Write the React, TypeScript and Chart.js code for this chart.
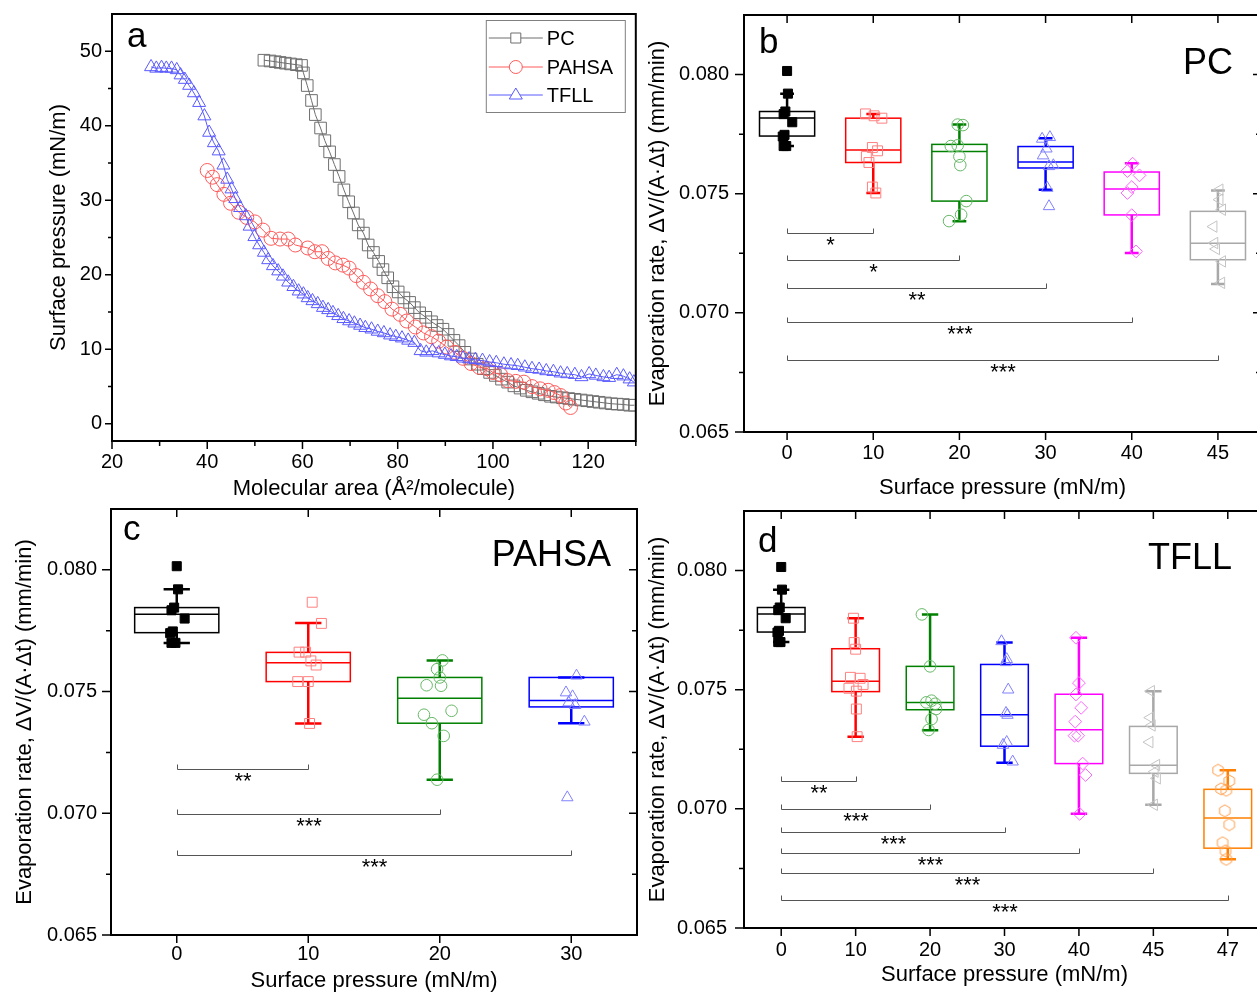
import React, { useEffect, useRef } from 'react';
import { Chart, registerables } from 'chart.js';

Chart.register(...registerables);

const FONT = "'Liberation Sans', Arial, Helvetica, sans-serif";

// ---------------- Panel a: isotherms ----------------
const pcArea = [51.9, 53.2, 54.3, 55.3, 56.4, 57.5, 58.7, 59.8, 60.2, 61.0, 61.9, 62.7, 63.8, 64.7, 65.7, 66.7, 67.7, 68.7, 69.7, 70.7, 71.7, 72.8, 73.8, 74.9, 76.0, 76.9, 77.9, 79.0, 80.1, 81.3, 82.5, 83.5, 84.6, 85.9, 87.1, 88.3, 89.5, 90.6, 91.8, 92.9, 94.1, 95.4, 96.7, 98.0, 99.3, 100.5, 101.8, 103.1, 104.4, 105.7, 107.0, 108.2, 109.5, 110.8, 112.1, 113.3, 114.6, 115.9, 117.2, 118.5, 119.7, 121.0, 122.3, 123.6, 124.9, 126.1, 127.4, 128.7, 129.7];
const pcPressure = [48.8, 48.7, 48.6, 48.5, 48.4, 48.3, 48.2, 48.1, 47.1, 45.4, 43.4, 41.5, 39.7, 38.0, 36.5, 34.8, 33.2, 31.4, 29.8, 28.3, 26.7, 25.6, 24.0, 23.0, 21.8, 20.7, 19.6, 18.4, 17.7, 16.9, 16.3, 15.6, 14.9, 14.3, 13.7, 13.2, 12.7, 12.0, 11.2, 10.5, 9.6, 8.7, 8.0, 7.4, 6.9, 6.5, 6.0, 5.6, 5.1, 4.8, 4.5, 4.3, 4.1, 3.9, 3.7, 3.6, 3.5, 3.4, 3.3, 3.2, 3.1, 3.0, 2.9, 2.8, 2.7, 2.65, 2.6, 2.5, 2.5];

const pahsaArea = [40.0, 41.1, 42.1, 43.5, 44.9, 46.6, 48.3, 50.0, 51.7, 53.4, 55.3, 57.0, 58.5, 61.1, 62.6, 64.1, 65.4, 66.9, 68.5, 69.8, 71.3, 72.8, 74.3, 75.8, 77.3, 78.8, 80.5, 81.9, 83.7, 85.4, 87.1, 88.6, 90.3, 92.0, 93.7, 95.4, 97.1, 98.8, 100.0, 101.6, 103.1, 104.8, 106.5, 108.2, 109.9, 111.6, 112.9, 114.2, 115.3, 116.3];
const pahsaPressure = [34.0, 33.1, 32.1, 30.8, 29.6, 28.4, 27.7, 27.1, 26.0, 24.9, 24.8, 24.8, 24.0, 23.6, 23.1, 23.1, 22.2, 21.6, 21.3, 20.9, 19.9, 19.0, 18.1, 17.2, 16.4, 15.4, 14.7, 13.8, 13.0, 12.2, 11.7, 11.1, 10.3, 9.6, 8.8, 8.1, 7.6, 7.4, 6.9, 6.6, 5.8, 5.7, 5.6, 5.0, 4.7, 4.5, 4.2, 3.8, 2.8, 2.2];

const tfllArea = [28.2, 29.3, 30.4, 31.4, 32.5, 33.6, 34.4, 35.3, 36.2, 37.2, 38.3, 39.4, 40.4, 41.4, 42.4, 43.4, 44.2, 45.1, 45.9, 46.9, 48.1, 48.9, 49.9, 50.9, 51.9, 52.8, 53.8, 54.9, 55.9, 57.0, 58.1, 59.2, 60.2, 61.1, 62.1, 63.2, 64.3, 65.4, 66.4, 67.5, 68.6, 69.8, 70.9, 72.1, 73.2, 74.5, 75.8, 77.1, 78.4, 79.6, 80.9, 82.2, 83.5, 84.8, 86.0, 87.3, 88.6, 89.9, 91.2, 92.4, 93.7, 95.0, 96.3, 97.8, 99.3, 100.7, 102.3, 103.8, 105.2, 106.7, 108.2, 109.7, 111.2, 112.7, 114.2, 115.6, 117.2, 118.6, 120.2, 121.6, 123.2, 124.4, 126.0, 127.4, 128.7, 129.6];
const tfllPressure = [47.9, 47.7, 47.8, 47.7, 47.7, 47.5, 46.8, 46.2, 45.4, 44.4, 43.1, 41.3, 39.1, 37.7, 36.6, 34.7, 32.8, 31.5, 30.2, 29.0, 27.9, 26.5, 25.1, 24.0, 23.0, 22.0, 21.2, 20.5, 19.8, 19.0, 18.4, 17.8, 17.4, 16.9, 16.5, 16.1, 15.6, 15.3, 14.9, 14.5, 14.1, 13.8, 13.5, 13.2, 12.9, 12.7, 12.4, 12.2, 11.9, 11.7, 11.5, 11.2, 10.9, 9.8, 9.6, 9.8, 9.5, 9.3, 9.1, 9.0, 8.8, 8.7, 8.6, 8.5, 8.3, 8.2, 8.0, 7.9, 7.8, 7.6, 7.4, 7.3, 7.1, 7.0, 6.8, 6.7, 6.6, 6.3, 6.7, 6.5, 6.3, 6.2, 6.6, 6.4, 6.0, 5.6];

const isothermLabels = ['PC', 'PAHSA', 'TFLL'];
const areaTicks = [20, 40, 60, 80, 100, 120];
const areaMinorTicks = [30, 50, 70, 90, 110, 130];
const pressureTicks = [0, 10, 20, 30, 40, 50];
const pressureMinorTicks = [5, 15, 25, 35, 45];

// ---------------- Evaporation panels ----------------
const evapTicks = [0.065, 0.07, 0.075, 0.08];
const evapMinorTicks = [0.0675, 0.0725, 0.0775];

const controlValues = [0.08015, 0.0792, 0.07845, 0.07834, 0.078, 0.07747, 0.0774, 0.077, 0.077];
const controlJitter = [0, 0.01, -0.02, -0.04, 0.06, -0.03, -0.05, -0.04, -0.01];

// PC (b)
const pcCats = ['0', '10', '20', '30', '40', '45'];
const pcValues = [
  controlValues,
  [0.07835, 0.07827, 0.07817, 0.07694, 0.0768, 0.07656, 0.07631, 0.07528, 0.07503],
  [0.0779, 0.07788, 0.07703, 0.077, 0.07656, 0.0762, 0.07469, 0.07412, 0.07385],
  [0.07737, 0.0773, 0.07689, 0.0766, 0.07619, 0.07615, 0.07524, 0.07447],
  [0.07626, 0.07595, 0.07577, 0.07528, 0.07503, 0.0741, 0.07258],
  [0.07517, 0.07475, 0.07433, 0.07362, 0.07293, 0.07268, 0.07216, 0.07126],
];
const pcJitter = [
  controlJitter,
  [-0.09, 0.01, 0.1, -0.01, 0.05, -0.08, -0.05, -0.01, 0.03],
  [-0.02, 0.04, -0.02, -0.1, 0, 0.01, 0.08, 0.02, -0.12],
  [0.05, -0.04, 0.01, -0.03, 0.09, 0.04, 0.02, 0.04],
  [0.01, -0.05, 0.09, 0, -0.05, 0, 0.05],
  [0.02, 0.02, 0.05, -0.05, -0.04, -0.02, 0.05, 0.04],
];
const pcQ3 = [0.07845, 0.07817, 0.07707, 0.07698, 0.07591, 0.07426];
const pcMedian = [0.07818, 0.07683, 0.07677, 0.07633, 0.0752, 0.07292];
const pcQ1 = [0.07742, 0.07631, 0.07469, 0.07608, 0.07411, 0.07223];
const pcWhiskHi = [0.0792, 0.07835, 0.0779, 0.07733, 0.07628, 0.07513];
const pcWhiskLo = [0.077, 0.07503, 0.07384, 0.07517, 0.07251, 0.07121];
const pcSigTo = [1, 2, 3, 4, 5];
const pcSigY = [0.07335, 0.0722, 0.07103, 0.0696, 0.06804];
const pcSigLabel = ['*', '*', '**', '***', '***'];

// PAHSA (c)
const pahsaCats = ['0', '10', '20', '30'];
const pahsaValues = [
  controlValues,
  [0.07867, 0.0778, 0.07662, 0.07662, 0.07626, 0.07609, 0.07541, 0.07541, 0.07369],
  [0.07628, 0.07592, 0.07558, 0.07526, 0.07524, 0.07421, 0.07405, 0.0737, 0.07318, 0.07138],
  [0.07565, 0.07496, 0.0748, 0.07455, 0.07444, 0.07376, 0.07065],
];
const pahsaJitter = [
  controlJitter,
  [0.03, 0.1, -0.07, -0.02, 0.02, 0.06, -0.08, 0, 0.01],
  [0.02, -0.02, 0, -0.1, 0.01, 0.09, -0.12, -0.06, 0.03, -0.02],
  [0.04, -0.04, 0.01, -0.02, 0.03, 0.1, -0.03],
];
const pahsaQ3 = [0.07845, 0.07661, 0.07558, 0.07558];
const pahsaMedian = [0.07818, 0.07618, 0.07473, 0.07463];
const pahsaQ1 = [0.07742, 0.07541, 0.0737, 0.07437];
const pahsaWhiskHi = [0.0792, 0.07782, 0.07628, 0.07558];
const pahsaWhiskLo = [0.077, 0.07369, 0.07138, 0.0737];
const pahsaSigTo = [1, 2, 3];
const pahsaSigY = [0.07181, 0.06997, 0.06828];
const pahsaSigLabel = ['**', '***', '***'];

// TFLL (d)
const tfllCats = ['0', '10', '20', '30', '40', '45', '47'];
const tfllValues = [
  controlValues,
  [0.078, 0.07698, 0.0767, 0.07552, 0.07548, 0.07522, 0.07506, 0.07494, 0.07419, 0.07303],
  [0.07816, 0.07598, 0.07454, 0.07447, 0.07441, 0.07419, 0.07377, 0.07331],
  [0.07703, 0.07628, 0.07615, 0.075, 0.07402, 0.07394, 0.0728, 0.07268, 0.07198],
  [0.07718, 0.07528, 0.0748, 0.07424, 0.07366, 0.07307, 0.07307, 0.0719, 0.07142, 0.06979],
  [0.07494, 0.07383, 0.0735, 0.0728, 0.07184, 0.07156, 0.07128, 0.07017],
  [0.07162, 0.07117, 0.07084, 0.07078, 0.06992, 0.06934, 0.06858, 0.06824, 0.06788],
];
const tfllJitter = [
  controlJitter,
  [-0.03, -0.02, 0, -0.07, 0.06, 0.1, -0.09, 0.01, 0.01, 0.02],
  [-0.11, 0, 0.02, -0.05, 0.07, 0.08, 0.02, -0.02],
  [-0.04, 0.03, 0.02, 0.05, 0.02, 0.04, 0.03, -0.02, 0.11],
  [-0.04, 0, -0.04, 0.03, -0.05, -0.06, -0.01, 0.05, 0.09, 0.01],
  [-0.03, -0.04, -0.02, -0.05, 0.04, 0.02, 0.05, 0.01],
  [-0.13, 0.02, -0.09, -0.02, -0.04, 0.02, -0.07, -0.03, -0.02],
];
const tfllQ3 = [0.07845, 0.07672, 0.07598, 0.07606, 0.07481, 0.07346, 0.07082];
const tfllMedian = [0.07818, 0.07535, 0.07446, 0.07395, 0.07332, 0.07183, 0.06962];
const tfllQ1 = [0.07742, 0.07492, 0.07416, 0.07263, 0.0719, 0.07149, 0.06835];
const tfllWhiskHi = [0.0792, 0.078, 0.07816, 0.07698, 0.07718, 0.07494, 0.07162];
const tfllWhiskLo = [0.077, 0.07303, 0.0733, 0.07193, 0.06979, 0.07017, 0.06788];
const tfllSigTo = [1, 2, 3, 4, 5, 6];
const tfllSigY = [0.07115, 0.07, 0.06902, 0.06815, 0.06731, 0.06616];
const tfllSigLabel = ['**', '***', '***', '***', '***', '***'];

// ---------------- styles ----------------
const BOX_COLORS = ['#000000', '#ff0000', '#008000', '#0000ff', '#ff00ff', '#a8a8a8', '#ff8000'];
const PT_COLORS = ['#000000', '#ff8080', '#66b866', '#8080ff', '#ff66ff', '#c4c4c4', '#ffa050'];
const PT_STYLES = ['rect', 'rect', 'circle', 'triangle', 'rectRot', 'triangle', 'hex'];
const PT_RADII = [6.4, 7, 5.8, 6.6, 6.4, 6.6, 6];
const PT_ROT = [0, 0, 0, 0, 0, -90, 0];
const ISO_COLORS = ['#6e6e6e', '#ff5a5a', '#5a5aff'];

function hexagonCanvas(color: string, size: number) {
  const c = document.createElement('canvas');
  c.width = size;
  c.height = size;
  const g = c.getContext('2d')!;
  g.strokeStyle = color;
  g.lineWidth = 1;
  g.beginPath();
  const r = size / 2 - 1;
  for (let k = 0; k < 6; k++) {
    const a = Math.PI / 6 + (k * Math.PI) / 3;
    const px = size / 2 + r * Math.cos(a);
    const py = size / 2 + r * Math.sin(a);
    if (k === 0) g.moveTo(px, py);
    else g.lineTo(px, py);
  }
  g.closePath();
  g.stroke();
  return c;
}

type Layout = {
  left: number; top: number; width: number; height: number;
  padTop: number; padRight: number; yWidth: number; xHeight: number;
  yTitlePad: number; xTitlePad: number; yTickPad: number; xTickPad: number;
  letterDx: number; letterDy: number; nameDx: number; nameDy: number;
};

const LAYOUT_A: Layout = { left: 0, top: 0, width: 645, height: 510, padTop: 14, padRight: 6, yWidth: 112, xHeight: 69, yTitlePad: 46, xTitlePad: 8, yTickPad: 10, xTickPad: 9, letterDx: 15, letterDy: 33, nameDx: 0, nameDy: 0 };
const LAYOUT_B: Layout = { left: 640, top: 0, width: 640, height: 510, padTop: 15, padRight: 19, yWidth: 104, xHeight: 78, yTitlePad: 5, xTitlePad: 9, yTickPad: 15, xTickPad: 9, letterDx: 15, letterDy: 38, nameDx: 28, nameDy: 59 };
const LAYOUT_C: Layout = { left: 0, top: 495, width: 645, height: 505, padTop: 14, padRight: 6, yWidth: 111, xHeight: 65, yTitlePad: 12, xTitlePad: 6, yTickPad: 14, xTickPad: 7, letterDx: 12, letterDy: 31, nameDx: 26, nameDy: 57 };
const LAYOUT_D: Layout = { left: 640, top: 495, width: 640, height: 505, padTop: 16, padRight: 15, yWidth: 104, xHeight: 72, yTitlePad: 5, xTitlePad: 12, yTickPad: 17, xTickPad: 10, letterDx: 14, letterDy: 41, nameDx: 33, nameDy: 58 };

function drawTicks(chart: any, xMajor: number[], xMinor: number[], yMajor: number[], yMinor: number[], inner: boolean, lens: number[]) {
  const { ctx, chartArea, scales } = chart;
  const { left, right, top, bottom } = chartArea;
  const x = scales.x;
  const y = scales.y;
  ctx.save();
  ctx.strokeStyle = '#000';
  ctx.lineWidth = 2;
  ctx.strokeRect(left, top, right - left, bottom - top);
  ctx.lineWidth = 1.5;
  ctx.beginPath();
  const [xMaj, xMin, yMaj, yMin] = lens;
  xMajor.forEach((v) => {
    const p = x.getPixelForValue(v);
    ctx.moveTo(p, bottom); ctx.lineTo(p, bottom + xMaj);
    if (inner) { ctx.moveTo(p, top); ctx.lineTo(p, top + xMaj); }
  });
  xMinor.forEach((v) => {
    const p = x.getPixelForValue(v);
    ctx.moveTo(p, bottom); ctx.lineTo(p, bottom + xMin);
  });
  yMajor.forEach((v) => {
    const p = y.getPixelForValue(v);
    ctx.moveTo(left, p); ctx.lineTo(left - yMaj, p);
    if (inner) { ctx.moveTo(right, p); ctx.lineTo(right - yMaj + 1, p); }
  });
  yMinor.forEach((v) => {
    const p = y.getPixelForValue(v);
    ctx.moveTo(left, p); ctx.lineTo(left - yMin, p);
    if (inner) { ctx.moveTo(right, p); ctx.lineTo(right - yMin, p); }
  });
  ctx.stroke();
  ctx.restore();
}

function drawLetter(chart: any, L: Layout, letter: string, name: string) {
  const { ctx, chartArea } = chart;
  ctx.save();
  ctx.fillStyle = '#000';
  ctx.textBaseline = 'alphabetic';
  ctx.font = `35px ${FONT}`;
  ctx.textAlign = 'left';
  ctx.fillText(letter, chartArea.left + L.letterDx, chartArea.top + L.letterDy);
  if (name) {
    ctx.font = `36px ${FONT}`;
    ctx.textAlign = 'right';
    ctx.fillText(name, chartArea.right - L.nameDx, chartArea.top + L.nameDy);
  }
  ctx.restore();
}

function axisOptions(L: Layout, xOpts: any, yOpts: any) {
  return {
    x: {
      type: 'linear',
      min: xOpts.min,
      max: xOpts.max,
      afterBuildTicks: (s: any) => { s.ticks = xOpts.ticks.map((v: number) => ({ value: v })); },
      afterFit: (s: any) => { s.height = L.xHeight; s.paddingLeft = 0; s.paddingRight = 0; },
      grid: { display: false, drawTicks: false },
      border: { display: false },
      ticks: { font: { family: FONT, size: 20 }, color: '#000', padding: L.xTickPad, autoSkip: false, maxRotation: 0, minRotation: 0, callback: xOpts.callback },
      title: { display: true, text: xOpts.title, color: '#000', font: { family: FONT, size: 22 }, padding: { top: 0, bottom: L.xTitlePad } },
    },
    y: {
      type: 'linear',
      min: yOpts.min,
      max: yOpts.max,
      afterBuildTicks: (s: any) => { s.ticks = yOpts.ticks.map((v: number) => ({ value: v })); },
      afterFit: (s: any) => { s.width = L.yWidth; s.paddingTop = 0; s.paddingBottom = 0; },
      grid: { display: false, drawTicks: false },
      border: { display: false },
      ticks: { font: { family: FONT, size: 20 }, color: '#000', padding: L.yTickPad, autoSkip: false, callback: yOpts.callback },
      title: { display: true, text: yOpts.title, color: '#000', font: { family: FONT, size: 22 }, padding: { top: L.yTitlePad, bottom: 0 } },
    },
  };
}

function baseOptions(L: Layout, scales: any) {
  return {
    responsive: false,
    animation: false,
    devicePixelRatio: 1,
    events: [],
    layout: { padding: { left: 0, top: L.padTop, right: L.padRight, bottom: 0 } },
    plugins: { legend: { display: false }, tooltip: { enabled: false } },
    scales,
  };
}

function makeIsothermChart(canvas: HTMLCanvasElement) {
  const L = LAYOUT_A;
  const series = [
    { x: pcArea, y: pcPressure, style: 'rect', r: 8.2 },
    { x: pahsaArea, y: pahsaPressure, style: 'circle', r: 7 },
    { x: tfllArea, y: tfllPressure, style: 'triangle', r: 7.5 },
  ];
  const datasets = series.map((s, i) => ({
    label: isothermLabels[i],
    data: s.x.map((v, j) => ({ x: v, y: s.y[j] })),
    showLine: true,
    borderColor: ISO_COLORS[i],
    borderWidth: 1,
    tension: 0,
    pointStyle: s.style,
    pointRadius: s.r,
    pointBorderColor: ISO_COLORS[i],
    pointBackgroundColor: 'rgba(0,0,0,0)',
    pointBorderWidth: 1,
    order: 2 - i,
  }));
  const legendPlugin = {
    id: 'isoDecor',
    afterDraw(chart: any) {
      drawTicks(chart, areaTicks, areaMinorTicks, pressureTicks, pressureMinorTicks, false, [8, 5, 7, 4]);
      drawLetter(chart, L, 'a', '');
      const { ctx, chartArea } = chart;
      const bx = chartArea.right - 150;
      const by = chartArea.top + 6;
      ctx.save();
      ctx.fillStyle = '#fff';
      ctx.fillRect(bx, by, 139, 92);
      ctx.strokeStyle = '#808080';
      ctx.lineWidth = 1;
      ctx.strokeRect(bx + 0.5, by + 0.5, 139, 92);
      const rows = [24, 53, 81];
      isothermLabels.forEach((lab, i) => {
        const ry = by + rows[i] - 6;
        const c = ISO_COLORS[i];
        ctx.strokeStyle = c;
        ctx.lineWidth = 1;
        ctx.beginPath();
        ctx.moveTo(bx + 3, ry); ctx.lineTo(bx + 57, ry);
        ctx.stroke();
        const mx = bx + 30;
        ctx.fillStyle = '#fff';
        ctx.beginPath();
        if (i === 0) { ctx.rect(mx - 5, ry - 5, 10, 10); }
        else if (i === 1) { ctx.arc(mx, ry, 6.5, 0, Math.PI * 2); }
        else { ctx.moveTo(mx, ry - 7); ctx.lineTo(mx + 6.5, ry + 4); ctx.lineTo(mx - 6.5, ry + 4); ctx.closePath(); }
        ctx.fill();
        ctx.stroke();
        ctx.fillStyle = '#000';
        ctx.font = `20px ${FONT}`;
        ctx.textAlign = 'left';
        ctx.textBaseline = 'middle';
        ctx.fillText(lab, bx + 61, ry + 1);
      });
      ctx.restore();
    },
  };
  const scales = axisOptions(
    L,
    { min: 20, max: 130, ticks: areaTicks, title: 'Molecular area (Å²/molecule)', callback: (v: number) => String(v) },
    { min: -2.3, max: 55, ticks: pressureTicks, title: 'Surface pressure (mN/m)', callback: (v: number) => String(v) },
  );
  return new Chart(canvas, {
    type: 'scatter',
    data: { datasets },
    options: baseOptions(L, scales) as any,
    plugins: [legendPlugin],
  } as any);
}

type BoxPanel = {
  cats: string[]; values: number[][]; jitter: number[][];
  q1: number[]; med: number[]; q3: number[]; lo: number[]; hi: number[];
  sigTo: number[]; sigY: number[]; sigLabel: string[];
  letter: string; name: string; capFrac: number; layout: Layout;
};

function makeBoxChart(canvas: HTMLCanvasElement, P: BoxPanel) {
  const L = P.layout;
  const hex = hexagonCanvas(PT_COLORS[6], 14);
  const datasets = P.values.map((vals, i) => ({
    data: vals.map((v, j) => ({ x: i + P.jitter[i][j], y: v })),
    showLine: false,
    pointStyle: PT_STYLES[i] === 'hex' ? hex : PT_STYLES[i],
    pointRadius: PT_RADII[i],
    pointRotation: PT_ROT[i],
    pointBorderColor: PT_COLORS[i],
    pointBackgroundColor: i === 0 ? '#000' : 'rgba(0,0,0,0)',
    pointBorderWidth: 1,
  }));
  const boxPlugin = {
    id: 'boxes' + P.letter,
    beforeDatasetsDraw(chart: any) {
      const { ctx, scales } = chart;
      const x = scales.x;
      const y = scales.y;
      const spacing = x.getPixelForValue(1) - x.getPixelForValue(0);
      const hw = (spacing * 0.64) / 2;
      const cw = (spacing * P.capFrac) / 2;
      ctx.save();
      P.q1.forEach((_, i) => {
        const cx = x.getPixelForValue(i);
        const y1 = y.getPixelForValue(P.q1[i]);
        const y3 = y.getPixelForValue(P.q3[i]);
        const ym = y.getPixelForValue(P.med[i]);
        const yl = y.getPixelForValue(P.lo[i]);
        const yh = y.getPixelForValue(P.hi[i]);
        ctx.strokeStyle = BOX_COLORS[i];
        ctx.lineWidth = 2.5;
        ctx.beginPath();
        ctx.moveTo(cx, y3); ctx.lineTo(cx, yh);
        ctx.moveTo(cx - cw, yh); ctx.lineTo(cx + cw, yh);
        ctx.moveTo(cx, y1); ctx.lineTo(cx, yl);
        ctx.moveTo(cx - cw, yl); ctx.lineTo(cx + cw, yl);
        ctx.stroke();
        ctx.lineWidth = 1.5;
        ctx.strokeRect(cx - hw, y3, 2 * hw, y1 - y3);
        ctx.beginPath();
        ctx.moveTo(cx - hw, ym); ctx.lineTo(cx + hw, ym);
        ctx.stroke();
      });
      // significance brackets
      ctx.strokeStyle = '#555';
      ctx.lineWidth = 1;
      ctx.fillStyle = '#000';
      ctx.font = `22px ${FONT}`;
      ctx.textAlign = 'center';
      ctx.textBaseline = 'top';
      P.sigTo.forEach((to, k) => {
        const x0 = Math.round(x.getPixelForValue(0)) + 0.5;
        const x1 = Math.round(x.getPixelForValue(to)) + 0.5;
        const yy = Math.round(y.getPixelForValue(P.sigY[k])) + 0.5;
        ctx.beginPath();
        ctx.moveTo(x0, yy - 5); ctx.lineTo(x0, yy); ctx.lineTo(x1, yy); ctx.lineTo(x1, yy - 5);
        ctx.stroke();
        ctx.fillText(P.sigLabel[k], (x0 + x1) / 2, yy + 1);
      });
      ctx.restore();
    },
    afterDraw(chart: any) {
      const idx = P.cats.map((_, i) => i);
      drawTicks(chart, idx, [], evapTicks, evapMinorTicks, true, [8, 0, 9, 5]);
      drawLetter(chart, L, P.letter, P.name);
    },
  };
  const scales = axisOptions(
    L,
    { min: -0.5, max: P.cats.length - 0.5, ticks: P.cats.map((_, i) => i), title: 'Surface pressure (mN/m)', callback: (_v: number, i: number) => P.cats[i] },
    { min: 0.065, max: 0.0825, ticks: evapTicks, title: 'Evaporation rate, ΔV/(A·Δt) (mm/min)', callback: (v: number) => Number(v).toFixed(3) },
  );
  return new Chart(canvas, {
    type: 'scatter',
    data: { datasets },
    options: baseOptions(L, scales) as any,
    plugins: [boxPlugin],
  } as any);
}

const PANEL_B: BoxPanel = { cats: pcCats, values: pcValues, jitter: pcJitter, q1: pcQ1, med: pcMedian, q3: pcQ3, lo: pcWhiskLo, hi: pcWhiskHi, sigTo: pcSigTo, sigY: pcSigY, sigLabel: pcSigLabel, letter: 'b', name: 'PC', capFrac: 0.16, layout: LAYOUT_B };
const PANEL_C: BoxPanel = { cats: pahsaCats, values: pahsaValues, jitter: pahsaJitter, q1: pahsaQ1, med: pahsaMedian, q3: pahsaQ3, lo: pahsaWhiskLo, hi: pahsaWhiskHi, sigTo: pahsaSigTo, sigY: pahsaSigY, sigLabel: pahsaSigLabel, letter: 'c', name: 'PAHSA', capFrac: 0.2, layout: LAYOUT_C };
const PANEL_D: BoxPanel = { cats: tfllCats, values: tfllValues, jitter: tfllJitter, q1: tfllQ1, med: tfllMedian, q3: tfllQ3, lo: tfllWhiskLo, hi: tfllWhiskHi, sigTo: tfllSigTo, sigY: tfllSigY, sigLabel: tfllSigLabel, letter: 'd', name: 'TFLL', capFrac: 0.22, layout: LAYOUT_D };

function canvasStyle(L: Layout): React.CSSProperties {
  return { position: 'absolute', left: L.left, top: L.top, width: L.width, height: L.height, display: 'block' };
}

export default function App() {
  const aRef = useRef<HTMLCanvasElement>(null);
  const bRef = useRef<HTMLCanvasElement>(null);
  const cRef = useRef<HTMLCanvasElement>(null);
  const dRef = useRef<HTMLCanvasElement>(null);

  useEffect(() => {
    const charts: Chart[] = [];
    if (aRef.current) charts.push(makeIsothermChart(aRef.current));
    if (bRef.current) charts.push(makeBoxChart(bRef.current, PANEL_B));
    if (cRef.current) charts.push(makeBoxChart(cRef.current, PANEL_C));
    if (dRef.current) charts.push(makeBoxChart(dRef.current, PANEL_D));
    return () => charts.forEach((c) => c.destroy());
  }, []);

  return (
    <div style={{ position: 'absolute', left: 0, top: 0, width: 1257, height: 992, overflow: 'hidden', background: '#fff' }}>
      <canvas ref={aRef} width={LAYOUT_A.width} height={LAYOUT_A.height} style={canvasStyle(LAYOUT_A)} />
      <canvas ref={bRef} width={LAYOUT_B.width} height={LAYOUT_B.height} style={canvasStyle(LAYOUT_B)} />
      <canvas ref={cRef} width={LAYOUT_C.width} height={LAYOUT_C.height} style={canvasStyle(LAYOUT_C)} />
      <canvas ref={dRef} width={LAYOUT_D.width} height={LAYOUT_D.height} style={canvasStyle(LAYOUT_D)} />
    </div>
  );
}
